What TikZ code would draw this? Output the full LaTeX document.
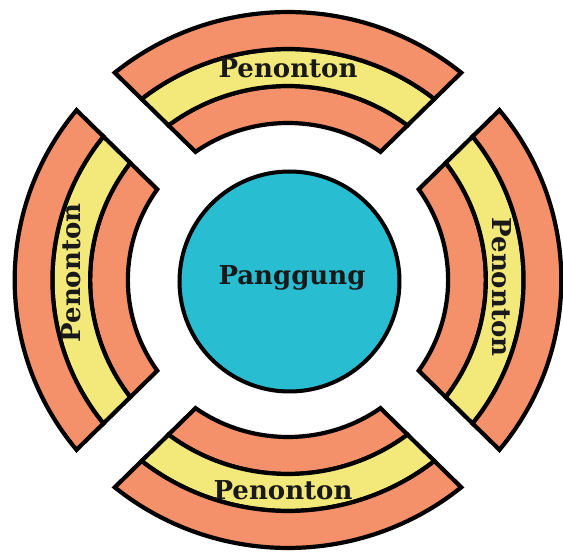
\documentclass[tikz,border=0pt]{standalone}
\usepackage{fontspec}
\setmainfont{DejaVu Serif}
\definecolor{orng}{HTML}{F4916A}
\definecolor{yel}{HTML}{F2E97A}
\definecolor{stagecol}{HTML}{29BDD2}
\tikzset{
  bandline/.style={draw=black, line width=4.2pt, line join=miter},
  lbl/.style={font=\bfseries\fontsize{26}{28}\selectfont, text=black!90, inner sep=0pt},
  stagebox/.style={circle, draw=black, line width=4pt, fill=stagecol, minimum size=220pt, inner sep=0pt}
}
\begin{document}
\begin{tikzpicture}[x=1pt,y=1pt]
\useasboundingbox (-288,-274) rectangle (275,280);
\def\gap{26.5}
\begin{scope}[xscale=1.02]
\foreach \rot in {0,90,180,270}{
  \foreach \ri/\ro/\col in {157/194/orng, 194/231/yel, 231/268/orng}{
    \pgfmathsetmacro\ao{asin(\gap/\ro)}
    \pgfmathsetmacro\ai{asin(\gap/\ri)}
    \pgfmathsetmacro\sa{\rot-45+\ao}
    \pgfmathsetmacro\ea{\rot+45-\ao}
    \pgfmathsetmacro\sb{\rot+45-\ai}
    \pgfmathsetmacro\eb{\rot-45+\ai}
    \draw[bandline, fill=\col] (\sa:\ro) arc[start angle=\sa, end angle=\ea, radius=\ro]
      -- (\sb:\ri) arc[start angle=\sb, end angle=\eb, radius=\ri] -- cycle;
  }
}
\end{scope}
\node[stagebox] (stage) at (1.5,-1.5) {};
\node[lbl] (stagelbl) at (4,2) {Panggung};
\node[lbl] (ptop) at (0,212) {Penonton};
\node[lbl] (pbot) at (-5,-210) {Penonton};
\node[lbl, rotate=90] (pleft) at (-217,7) {Penonton};
\node[lbl, rotate=-90] (pright) at (214,-7) {Penonton};
\end{tikzpicture}
\end{document}
